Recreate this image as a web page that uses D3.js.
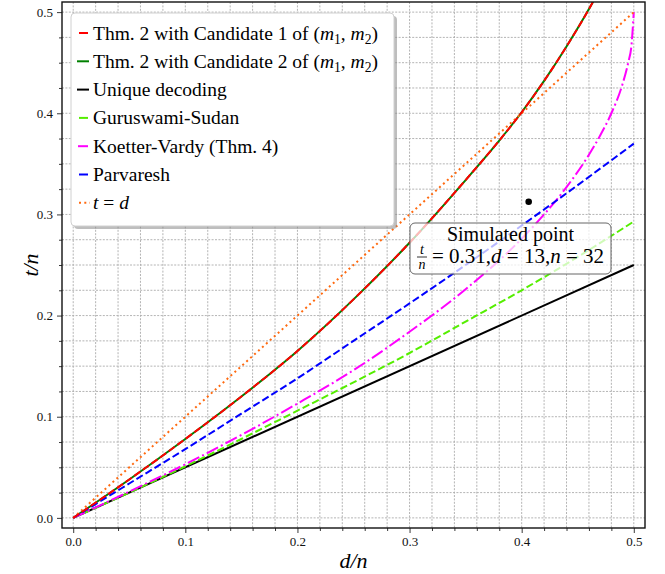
<!DOCTYPE html>
<html>
<head>
<meta charset="utf-8">
<script src="https://cdn.jsdelivr.net/npm/d3@7"></script>
<style>
  body { margin: 0; background: #fff; }
</style>
</head>
<body>
<div id="chart"></div>
<script>

// Values (d/n on x, t/n on y)
const dGrid = [0, 0.05, 0.1, 0.15, 0.2, 0.25, 0.3, 0.35, 0.4, 0.45, 0.5];

const thmD = [0, 0.05, 0.1, 0.15, 0.2, 0.25, 0.3, 0.35, 0.38, 0.4, 0.42, 0.44, 0.46, 0.47];
const thmT = [0, 0.038, 0.078, 0.12, 0.165, 0.216, 0.272, 0.334, 0.373, 0.401, 0.432, 0.466, 0.503, 0.523];

const uniqueD = [0, 0.5];
const uniqueT = [0, 0.25];

const gsT = [0, 0.025, 0.051, 0.078, 0.106, 0.134, 0.163, 0.194, 0.225, 0.258, 0.293];

const kvD = [0, 0.05, 0.1, 0.15, 0.2, 0.25, 0.3, 0.35, 0.4, 0.42, 0.44, 0.46, 0.47, 0.48, 0.49, 0.495, 0.498, 0.5];
const kvT = [0, 0.026, 0.053, 0.082, 0.113, 0.146, 0.184, 0.226, 0.276, 0.3, 0.327, 0.359, 0.378, 0.4, 0.429, 0.45, 0.468, 0.5];

const parT = [0, 0.034, 0.068, 0.103, 0.138, 0.175, 0.212, 0.25, 0.289, 0.329, 0.37];

const tdD = [0, 0.5];
const tdT = [0, 0.5];

const simD = [0.40625];
const simT = [0.3125];

const xMajor = [0, 0.1, 0.2, 0.3, 0.4, 0.5];
const xMinor = [0.02, 0.04, 0.06, 0.08, 0.12, 0.14, 0.16, 0.18, 0.22, 0.24, 0.26, 0.28,
                0.32, 0.34, 0.36, 0.38, 0.42, 0.44, 0.46, 0.48];
const yMajor = [0, 0.1, 0.2, 0.3, 0.4, 0.5];
const yMinor = [0.025, 0.05, 0.075, 0.125, 0.15, 0.175, 0.225, 0.25, 0.275,
                0.325, 0.35, 0.375, 0.425, 0.45, 0.475];

// Legend labels, split in pieces: [text, kind] where kind is "", "i" (italic) or "sub"
const legendLabels = [
  [["Thm. 2 with Candidate 1 of (", ""], ["m", "i"], ["1", "sub"], [", ", ""], ["m", "i"], ["2", "sub"], [")", ""]],
  [["Thm. 2 with Candidate 2 of (", ""], ["m", "i"], ["1", "sub"], [", ", ""], ["m", "i"], ["2", "sub"], [")", ""]],
  [["Unique decoding", ""]],
  [["Guruswami-Sudan", ""]],
  [["Koetter-Vardy (Thm. 4)", ""]],
  [["Parvaresh", ""]],
  [["t", "i"], [" = ", ""], ["d", "i"]]
];

// Set dimensions and frame of the plot
const width = 665;
const height = 574;
const frame = {left: 62, right: 645, top: 2, bottom: 528};
const serif = "'Liberation Serif'";

const svg = d3.select("#chart")
  .append("svg")
  .attr("width", width)
  .attr("height", height);

// Scales
const xScale = d3.scaleLinear()
  .domain([-0.01, 0.51])
  .range([frame.left, frame.right]);

const yScale = d3.scaleLinear()
  .domain([-0.01, 0.51])
  .range([frame.bottom, frame.top]);

svg.append("clipPath")
  .attr("id", "plot-clip")
  .append("rect")
  .attr("x", frame.left)
  .attr("y", frame.top)
  .attr("width", frame.right - frame.left)
  .attr("height", frame.bottom - frame.top);

/*
  Grid (major + minor, dotted)
*/
const grid = svg.append("g").attr("clip-path", "url(#plot-clip)");

grid.selectAll(".vgrid")
  .data(xMajor.concat(xMinor))
  .enter()
  .append("line")
  .attr("x1", d => xScale(d))
  .attr("x2", d => xScale(d))
  .attr("y1", frame.top)
  .attr("y2", frame.bottom)
  .attr("stroke", "#acacac")
  .attr("stroke-width", 0.9)
  .attr("stroke-dasharray", "2,1.4");

grid.selectAll(".hgrid")
  .data(yMajor.concat(yMinor))
  .enter()
  .append("line")
  .attr("y1", d => yScale(d))
  .attr("y2", d => yScale(d))
  .attr("x1", frame.left)
  .attr("x2", frame.right)
  .attr("stroke", "#acacac")
  .attr("stroke-width", 0.9)
  .attr("stroke-dasharray", "2,1.4");

/*
  Axes
*/
const fmt = d3.format(".1f");

svg.append("g")
  .attr("transform", `translate(0,${frame.bottom})`)
  .call(d3.axisBottom(xScale).tickValues(xMajor).tickFormat(fmt).tickSize(5).tickPadding(4));
svg.append("g")
  .attr("transform", `translate(0,${frame.bottom})`)
  .call(d3.axisBottom(xScale).tickValues(xMinor).tickFormat("").tickSize(3));

svg.append("g")
  .attr("transform", `translate(${frame.left},0)`)
  .call(d3.axisLeft(yScale).tickValues(yMajor).tickFormat(fmt).tickSize(5).tickPadding(4));
svg.append("g")
  .attr("transform", `translate(${frame.left},0)`)
  .call(d3.axisLeft(yScale).tickValues(yMinor).tickFormat("").tickSize(3));

svg.selectAll(".domain").remove();
svg.selectAll(".tick line").attr("stroke", "#222").attr("stroke-width", 0.9);
svg.selectAll(".tick text")
  .style("font-size", "13px")
  .attr("fill", "#111");

// Axis labels
svg.append("text")
  .attr("x", (frame.left + frame.right) / 2)
  .attr("y", 568)
  .attr("text-anchor", "middle")
  .style("font-size", "22px")
  .style("font-style", "italic")
  .text("d/n");

svg.append("text")
  .attr("transform", `translate(38,${(frame.top + frame.bottom) / 2}) rotate(-90)`)
  .attr("text-anchor", "middle")
  .style("font-size", "22px")
  .style("font-style", "italic")
  .text("t/n");

/*
  Curves
*/
const line = d3.line()
  .x(d => xScale(d[0]))
  .y(d => yScale(d[1]))
  .curve(d3.curveMonotoneX);

const zip = (xs, ys) => xs.map((x, i) => [x, ys[i]]);

const series = [
  {pts: zip(thmD, thmT), color: "#008000", dash: null, legendDash: null, lx: [77, 89]},
  {pts: zip(uniqueD, uniqueT), color: "#000000", dash: null, legendDash: null, lx: [77, 89]},
  {pts: zip(dGrid, gsT), color: "#55ee00", dash: "7.4,3.2", legendDash: null, lx: [79, 88]},
  {pts: zip(kvD, kvT), color: "#ff00ff", dash: "12.8,3.2,2,3.2", legendDash: null, lx: [78, 88]},
  {pts: zip(dGrid, parT), color: "#0000ff", dash: "7.4,3.2", legendDash: null, lx: [79, 88]},
  {pts: zip(tdD, tdT), color: "#ff6a10", dash: "2,3.3", legendDash: "2,3.3", lx: [79, 90]},
  {pts: zip(thmD, thmT), color: "#ff0000", dash: "7.4,3.2", legendDash: null, lx: [79, 88]}
];

const curves = svg.append("g").attr("clip-path", "url(#plot-clip)");

series.forEach(s => {
  curves.append("path")
    .datum(s.pts)
    .attr("d", line)
    .attr("fill", "none")
    .attr("stroke", s.color)
    .attr("stroke-width", 2)
    .attr("stroke-dasharray", s.dash);
});

// Simulated point
curves.selectAll(".sim")
  .data(zip(simD, simT))
  .enter()
  .append("circle")
  .attr("cx", d => xScale(d[0]))
  .attr("cy", d => yScale(d[1]))
  .attr("r", 3.3)
  .attr("fill", "#000");

// Frame
svg.append("rect")
  .attr("x", frame.left)
  .attr("y", frame.top)
  .attr("width", frame.right - frame.left)
  .attr("height", frame.bottom - frame.top)
  .attr("fill", "none")
  .attr("stroke", "#111")
  .attr("stroke-width", 1.4);

/*
  Annotation box
*/
const ann = svg.append("g");
ann.append("rect")
  .attr("x", 410).attr("y", 223)
  .attr("width", 201).attr("height", 51)
  .attr("rx", 5)
  .attr("fill", "#fff")
  .attr("fill-opacity", 0.72)
  .attr("stroke", "#666")
  .attr("stroke-width", 1);

ann.append("text")
  .attr("x", 510.5).attr("y", 241)
  .attr("text-anchor", "middle")
  .style("font-size", "20px")
  .style("font-family", serif)
  .text("Simulated point");

const line2 = ann.append("text").attr("y", 263)
  .style("font-size", "21px")
  .style("font-family", serif);
[["= 0.31,", ""], ["d", "i"], [" = 13,", ""], ["n", "i"], [" = 32", ""]].forEach(p => {
  line2.append("tspan")
    .style("font-style", p[1] === "i" ? "italic" : null)
    .text(p[0]);
});
const w2 = line2.node().getComputedTextLength();
const fracW = 10;
const startX = 510.5 - (fracW + 5 + w2) / 2;
line2.attr("x", startX + fracW + 5);
line2.select("tspan").attr("x", startX + fracW + 5);

ann.append("text")
  .attr("x", startX + fracW / 2).attr("y", 254)
  .attr("text-anchor", "middle").style("font-size", "14px").style("font-style", "italic")
  .text("t");
ann.append("line")
  .attr("x1", startX).attr("x2", startX + fracW)
  .attr("y1", 257).attr("y2", 257)
  .attr("stroke", "#000").attr("stroke-width", 0.8);
ann.append("text")
  .attr("x", startX + fracW / 2).attr("y", 269)
  .attr("text-anchor", "middle").style("font-size", "14px").style("font-style", "italic")
  .text("n");

/*
  Legend
*/
const legend = svg.append("g");
legend.append("rect")
  .attr("x", 74).attr("y", 16)
  .attr("width", 323).attr("height", 213)
  .attr("rx", 4)
  .attr("fill", "#888")
  .attr("fill-opacity", 0.55);
legend.append("rect")
  .attr("x", 71).attr("y", 13)
  .attr("width", 323).attr("height", 213)
  .attr("rx", 4)
  .attr("fill", "#fff")
  .attr("stroke", "#d0d0d0")
  .attr("stroke-width", 1);

// legend order follows the reference: red first, then green...
const legendOrder = [6, 0, 1, 2, 3, 4, 5];
const fs = 19.5;

legendOrder.forEach((si, row) => {
  const s = series[si];
  const cy = 33 + row * 28.3;
  legend.append("line")
    .attr("x1", s.lx[0]).attr("x2", s.lx[1])
    .attr("y1", cy).attr("y2", cy)
    .attr("stroke", s.color)
    .attr("stroke-width", 2)
    .attr("stroke-dasharray", s.legendDash);

  const txt = legend.append("text")
    .attr("x", 93)
    .attr("y", cy + 6.5)
    .style("font-size", fs + "px");
  let shift = 0;
  legendLabels[row].forEach(p => {
    const ts = txt.append("tspan").text(p[0]);
    if (p[1] === "i") ts.style("font-style", "italic");
    if (p[1] === "sub") {
      ts.style("font-size", (fs * 0.7) + "px").attr("dy", 4.5 - shift);
      shift = 4.5;
    } else if (shift !== 0) {
      ts.attr("dy", -shift);
      shift = 0;
    }
  });
});

// Serif font on every text element (set inline, one family name)
svg.selectAll("text").style("font-family", serif);

</script>
</body>
</html>
